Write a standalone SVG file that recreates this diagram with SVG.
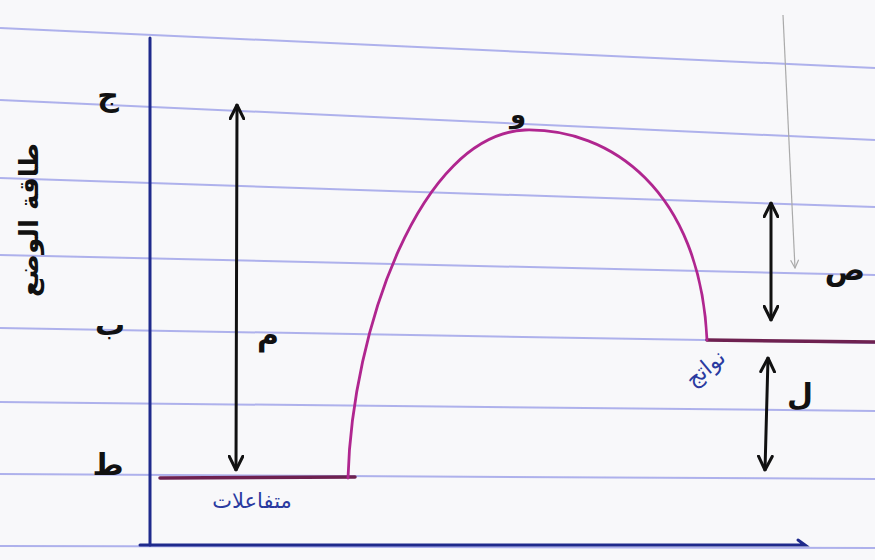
<svg xmlns="http://www.w3.org/2000/svg" width="875" height="560" viewBox="0 0 875 560">
<defs>
<style>
.rule{stroke:#8e93e6;stroke-width:2;fill:none;opacity:0.7}
.pen{stroke:#1f2a8c;stroke-width:3;fill:none;stroke-linecap:round}
.arw{stroke:#111;stroke-width:3;fill:none;stroke-linecap:round}
.curve{stroke:#b0268f;stroke-width:2.8;fill:none;stroke-linecap:round}
.level{stroke:#6e2150;stroke-width:3.5;fill:none;stroke-linecap:round}
.lbl{font-family:"DejaVu Sans",sans-serif;fill:#111;font-weight:bold}
.blue{font-family:"DejaVu Sans",sans-serif;fill:#2a3aa0}
</style>
<marker id="hd" viewBox="0 0 12 12" refX="11" refY="6" markerWidth="5.5" markerHeight="5.5" orient="auto-start-reverse" markerUnits="strokeWidth">
<path d="M1,1 L11,6 L1,11" fill="none" stroke="#111" stroke-width="2.2" stroke-linecap="round" stroke-linejoin="round"/>
</marker>
<marker id="hdg" viewBox="0 0 12 12" refX="11" refY="6" markerWidth="8" markerHeight="8" orient="auto" markerUnits="strokeWidth">
<path d="M1,1 L11,6 L1,11" fill="none" stroke="#aaa" stroke-width="1.5"/>
</marker>
</defs>
<rect width="875" height="560" fill="#f8f8fa"/>
<g id="paper">
<line class="rule" x1="0" y1="28" x2="875" y2="68"/>
<line class="rule" x1="0" y1="100" x2="875" y2="140"/>
<line class="rule" x1="0" y1="178" x2="875" y2="207"/>
<line class="rule" x1="0" y1="255" x2="875" y2="275"/>
<line class="rule" x1="0" y1="328" x2="875" y2="343"/>
<line class="rule" x1="0" y1="402" x2="875" y2="411"/>
<line class="rule" x1="0" y1="474" x2="875" y2="479"/>
<line class="rule" x1="0" y1="546" x2="875" y2="548"/>
</g>
<g id="axes">
<line class="pen" x1="150" y1="38" x2="150" y2="545"/>
<path class="pen" d="M140,545 L805,545 L798,540"/>
</g>
<g id="levels">
<line class="level" x1="160" y1="478" x2="355" y2="477"/>
<line class="level" x1="707" y1="340" x2="875" y2="342"/>
<path class="curve" d="M348,478 C352,330 420,135 525,130 C610,128 700,190 707,340"/>
</g>
<g id="connectors">
<line class="arw" x1="237" y1="105" x2="236" y2="470" marker-start="url(#hd)" marker-end="url(#hd)"/>
<line class="arw" x1="771" y1="203" x2="771" y2="320" marker-start="url(#hd)" marker-end="url(#hd)"/>
<line class="arw" x1="768" y1="358" x2="765" y2="470" marker-start="url(#hd)" marker-end="url(#hd)"/>
<line x1="783" y1="15" x2="795" y2="268" stroke="#aaa" stroke-width="1.2" marker-end="url(#hdg)"/>
</g>
<g id="ylabel">
<text class="lbl" font-size="26" transform="translate(30,220) rotate(-90)" text-anchor="middle" dominant-baseline="middle">طاقة الوضع</text>
</g>
<g id="ticks">
<text class="lbl" x="108" y="106" font-size="30" text-anchor="middle">ج</text>
<text class="lbl" x="110" y="335" font-size="30" text-anchor="middle">ب</text>
<text class="lbl" x="108" y="475" font-size="30" text-anchor="middle">ط</text>
</g>
<g id="labels">
<text class="lbl" x="268" y="345" font-size="30" text-anchor="middle">م</text>
<text class="lbl" x="518" y="123" font-size="26" text-anchor="middle">و</text>
<text class="lbl" x="845" y="280" font-size="30" text-anchor="middle">ص</text>
<text class="lbl" x="800" y="405" font-size="30" text-anchor="middle">ل</text>
<text class="blue" font-size="22" transform="translate(710,374) rotate(-40)" text-anchor="middle">نواتج</text>
<text class="blue" x="252" y="508" font-size="21" text-anchor="middle">متفاعلات</text>
</g>
</svg>
